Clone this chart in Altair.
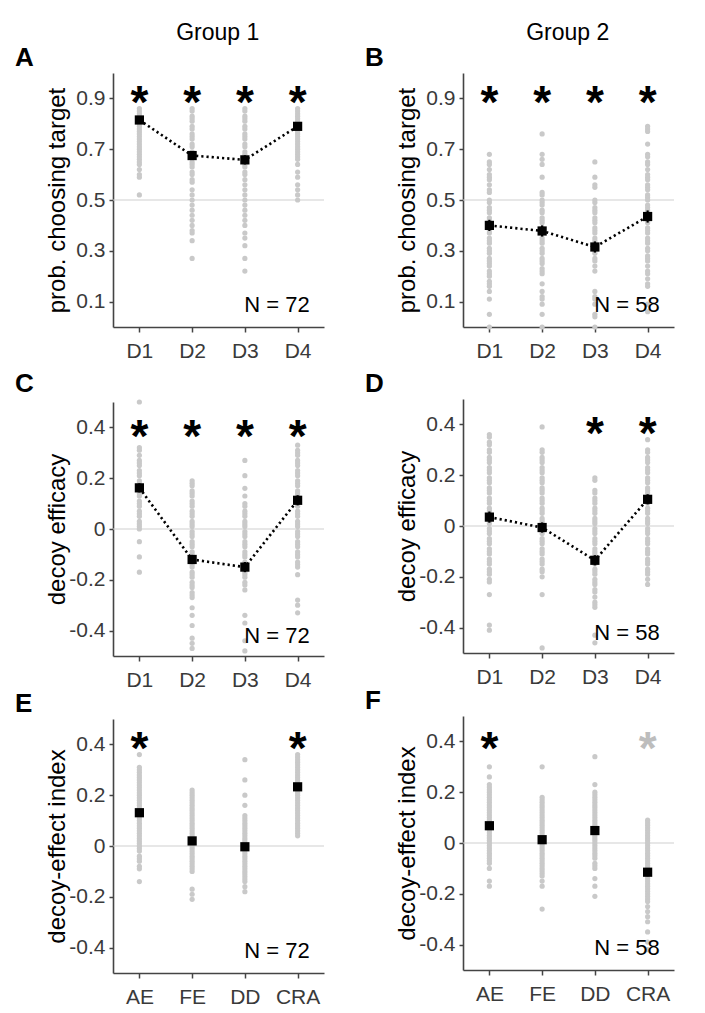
import altair as alt
import pandas as pd

FONT = "Liberation Sans"

cats_d = ["D1", "D2", "D3", "D4"]
cats_e = ["AE", "FE", "DD", "CRA"]

# ---------------- Panel A (Group 1, prob. choosing target) ----------------
a_d1 = [0.86, 0.85, 0.84, 0.83, 0.82, 0.81, 0.80, 0.79, 0.78, 0.77, 0.76, 0.75, 0.74, 0.73, 0.72,
        0.71, 0.70, 0.69, 0.68, 0.67, 0.66, 0.65, 0.64, 0.62, 0.60, 0.59, 0.52]
a_d2 = [0.86, 0.85, 0.83, 0.82, 0.81, 0.79, 0.78, 0.76, 0.75, 0.74, 0.72, 0.71, 0.69, 0.68, 0.67,
        0.65, 0.64, 0.63, 0.61, 0.60, 0.58, 0.57, 0.54, 0.52, 0.50, 0.48, 0.46, 0.44, 0.42, 0.40,
        0.38, 0.37, 0.34, 0.27]
a_d3 = [0.86, 0.85, 0.83, 0.82, 0.81, 0.79, 0.78, 0.76, 0.75, 0.74, 0.72, 0.71, 0.69, 0.68, 0.67,
        0.65, 0.64, 0.63, 0.61, 0.60, 0.58, 0.56, 0.54, 0.52, 0.50, 0.48, 0.46, 0.44, 0.42, 0.40,
        0.37, 0.35, 0.32, 0.27, 0.22]
a_d4 = [0.86, 0.85, 0.84, 0.83, 0.82, 0.81, 0.80, 0.79, 0.78, 0.77, 0.76, 0.75, 0.74, 0.73, 0.72,
        0.71, 0.70, 0.69, 0.68, 0.67, 0.66, 0.64, 0.61, 0.59, 0.56, 0.54, 0.52, 0.50]
a_mean = [0.815, 0.675, 0.658, 0.790]
a_se = [0.012, 0.016, 0.018, 0.013]

# ---------------- Panel B (Group 2, prob. choosing target) ----------------
b_d1 = [0.68, 0.65, 0.64, 0.62, 0.60, 0.59, 0.58, 0.56, 0.54, 0.53, 0.50, 0.49, 0.47, 0.46, 0.45,
        0.43, 0.42, 0.41, 0.39, 0.38, 0.37, 0.35, 0.34, 0.33, 0.31, 0.30, 0.29, 0.27, 0.26, 0.25,
        0.24, 0.22, 0.21, 0.20, 0.18, 0.17, 0.16, 0.14, 0.11, 0.05, 0.0]
b_d2 = [0.76, 0.68, 0.66, 0.64, 0.59, 0.53, 0.52, 0.50, 0.49, 0.48, 0.46, 0.45, 0.43, 0.42, 0.41,
        0.39, 0.38, 0.37, 0.35, 0.34, 0.33, 0.31, 0.30, 0.29, 0.27, 0.26, 0.25, 0.23, 0.22, 0.21,
        0.17, 0.14, 0.12, 0.11, 0.09, 0.05, 0.0]
b_d3 = [0.65, 0.59, 0.56, 0.55, 0.50, 0.49, 0.47, 0.46, 0.45, 0.43, 0.42, 0.41, 0.39, 0.38, 0.37,
        0.35, 0.34, 0.33, 0.31, 0.30, 0.29, 0.27, 0.26, 0.24, 0.22, 0.14, 0.12, 0.11, 0.09, 0.05,
        0.04, 0.0]
b_d4 = [0.79, 0.78, 0.77, 0.72, 0.68, 0.67, 0.65, 0.64, 0.62, 0.60, 0.59, 0.58, 0.56, 0.55, 0.54,
        0.52, 0.51, 0.50, 0.48, 0.47, 0.46, 0.45, 0.43, 0.42, 0.41, 0.39, 0.38, 0.37, 0.35, 0.34,
        0.33, 0.31, 0.30, 0.28, 0.27, 0.26, 0.24, 0.22, 0.21, 0.19, 0.17, 0.16, 0.09, 0.06]
b_mean = [0.400, 0.378, 0.315, 0.435]
b_se = [0.022, 0.022, 0.022, 0.024]

# ---------------- Panel C (Group 1, decoy efficacy) ----------------
c_d1 = [0.50, 0.32, 0.31, 0.29, 0.27, 0.26, 0.25, 0.23, 0.22, 0.21, 0.19, 0.18, 0.17, 0.15, 0.14,
        0.13, 0.11, 0.10, 0.09, 0.07, 0.06, 0.05, 0.03, 0.02, 0.01, 0.0, -0.05, -0.11, -0.17]
c_d2 = [0.19, 0.18, 0.17, 0.15, 0.14, 0.13, 0.11, 0.10, 0.09, 0.07, 0.06, 0.05, 0.03, 0.02, 0.01,
        -0.01, -0.02, -0.03, -0.05, -0.06, -0.07, -0.09, -0.10, -0.11, -0.13, -0.14, -0.15, -0.17,
        -0.18, -0.19, -0.21, -0.22, -0.23, -0.25, -0.26, -0.27, -0.31, -0.34, -0.38, -0.43, -0.45,
        -0.47]
c_d3 = [0.27, 0.21, 0.16, 0.13, 0.10, 0.09, 0.07, 0.06, 0.05, 0.03, 0.02, 0.01, -0.01, -0.02,
        -0.03, -0.05, -0.06, -0.07, -0.09, -0.10, -0.11, -0.13, -0.14, -0.15, -0.17, -0.18, -0.19,
        -0.21, -0.22, -0.24, -0.34, -0.37, -0.44, -0.48]
c_d4 = [0.33, 0.31, 0.30, 0.29, 0.27, 0.26, 0.25, 0.23, 0.22, 0.21, 0.19, 0.18, 0.17, 0.15, 0.14,
        0.13, 0.11, 0.10, 0.09, 0.07, 0.06, 0.05, 0.03, 0.02, 0.01, -0.01, -0.02, -0.03, -0.05,
        -0.06, -0.07, -0.09, -0.10, -0.11, -0.13, -0.14, -0.15, -0.18, -0.28, -0.30, -0.33]
c_mean = [0.162, -0.120, -0.150, 0.113]
c_se = [0.018, 0.018, 0.020, 0.020]

# ---------------- Panel D (Group 2, decoy efficacy) ----------------
d_d1 = [0.36, 0.35, 0.33, 0.32, 0.30, 0.29, 0.27, 0.26, 0.25, 0.23, 0.22, 0.21, 0.19, 0.18, 0.17,
        0.15, 0.14, 0.13, 0.11, 0.10, 0.09, 0.07, 0.06, 0.05, 0.03, 0.02, 0.01, -0.01, -0.02,
        -0.03, -0.05, -0.06, -0.07, -0.09, -0.10, -0.11, -0.13, -0.14, -0.15, -0.17, -0.18,
        -0.19, -0.21, -0.22, -0.27, -0.39, -0.41]
d_d2 = [0.39, 0.30, 0.29, 0.27, 0.26, 0.25, 0.23, 0.22, 0.21, 0.19, 0.18, 0.17, 0.15, 0.14, 0.13,
        0.11, 0.10, 0.09, 0.07, 0.06, 0.05, 0.03, 0.02, 0.01, -0.01, -0.02, -0.03, -0.05, -0.06,
        -0.07, -0.09, -0.10, -0.11, -0.13, -0.14, -0.15, -0.17, -0.18, -0.20, -0.27, -0.48]
d_d3 = [0.19, 0.18, 0.14, 0.13, 0.11, 0.10, 0.09, 0.07, 0.06, 0.05, 0.03, 0.02, 0.01, -0.01,
        -0.02, -0.03, -0.05, -0.06, -0.07, -0.09, -0.10, -0.11, -0.13, -0.14, -0.15, -0.17,
        -0.18, -0.19, -0.21, -0.22, -0.23, -0.25, -0.26, -0.28, -0.30, -0.31, -0.32, -0.43, -0.46]
d_d4 = [0.34, 0.30, 0.29, 0.27, 0.26, 0.25, 0.23, 0.22, 0.21, 0.19, 0.18, 0.17, 0.15, 0.14, 0.13,
        0.11, 0.10, 0.09, 0.07, 0.06, 0.05, 0.03, 0.02, 0.01, -0.01, -0.02, -0.03, -0.05, -0.06,
        -0.07, -0.09, -0.10, -0.11, -0.13, -0.14, -0.15, -0.17, -0.18, -0.19, -0.21, -0.23]
d_mean = [0.035, -0.006, -0.135, 0.105]
d_se = [0.022, 0.020, 0.020, 0.020]

# ---------------- Panel E (Group 1, decoy-effect index) ----------------
e_ae = [0.36, 0.31, 0.30, 0.29, 0.28, 0.27, 0.26, 0.25, 0.24, 0.23, 0.22, 0.21, 0.20, 0.19, 0.18,
        0.17, 0.16, 0.15, 0.14, 0.13, 0.12, 0.11, 0.10, 0.09, 0.08, 0.07, 0.06, 0.05, 0.04, 0.03,
        0.02, 0.01, 0.0, -0.01, -0.02, -0.04, -0.05, -0.06, -0.08, -0.09, -0.14]
e_fe = [0.22, 0.21, 0.20, 0.19, 0.18, 0.17, 0.16, 0.15, 0.14, 0.13, 0.12, 0.11, 0.10, 0.09, 0.08,
        0.07, 0.06, 0.05, 0.04, 0.03, 0.02, 0.01, 0.0, -0.01, -0.02, -0.03, -0.04, -0.05, -0.06,
        -0.07, -0.08, -0.09, -0.10, -0.17, -0.19, -0.21]
e_dd = [0.34, 0.26, 0.20, 0.16, 0.12, 0.11, 0.10, 0.09, 0.08, 0.07, 0.06, 0.05, 0.04, 0.03, 0.02,
        0.01, 0.0, -0.01, -0.02, -0.03, -0.04, -0.05, -0.06, -0.07, -0.08, -0.09, -0.10, -0.11,
        -0.12, -0.13, -0.14, -0.16, -0.18]
e_cra = [0.36, 0.35, 0.34, 0.33, 0.32, 0.31, 0.30, 0.29, 0.28, 0.27, 0.26, 0.25, 0.24, 0.23, 0.22,
         0.21, 0.20, 0.19, 0.18, 0.17, 0.16, 0.15, 0.14, 0.13, 0.12, 0.11, 0.10, 0.09, 0.08, 0.07,
         0.06, 0.05, 0.04]
e_mean = [0.131, 0.020, -0.003, 0.233]
e_se = [0.015, 0.012, 0.012, 0.010]

# ---------------- Panel F (Group 2, decoy-effect index) ----------------
f_ae = [0.30, 0.26, 0.23, 0.22, 0.21, 0.20, 0.19, 0.18, 0.17, 0.16, 0.15, 0.14, 0.13, 0.12, 0.11,
        0.10, 0.09, 0.08, 0.07, 0.06, 0.05, 0.04, 0.03, 0.02, 0.01, 0.0, -0.01, -0.02, -0.03,
        -0.04, -0.05, -0.06, -0.07, -0.08, -0.10, -0.15, -0.17]
f_fe = [0.30, 0.18, 0.17, 0.16, 0.15, 0.14, 0.13, 0.12, 0.11, 0.10, 0.09, 0.08, 0.07, 0.06, 0.05,
        0.04, 0.03, 0.02, 0.01, 0.0, -0.01, -0.02, -0.03, -0.04, -0.05, -0.06, -0.07, -0.08,
        -0.09, -0.10, -0.11, -0.12, -0.13, -0.15, -0.17, -0.26]
f_dd = [0.34, 0.23, 0.20, 0.19, 0.18, 0.17, 0.16, 0.15, 0.14, 0.13, 0.12, 0.11, 0.10, 0.09, 0.08,
        0.07, 0.06, 0.05, 0.04, 0.03, 0.02, 0.01, 0.0, -0.01, -0.02, -0.03, -0.04, -0.05, -0.06,
        -0.08, -0.09, -0.10, -0.14, -0.17, -0.21]
f_cra = [0.09, 0.08, 0.07, 0.06, 0.05, 0.04, 0.03, 0.02, 0.01, 0.0, -0.01, -0.02, -0.03, -0.04,
         -0.05, -0.06, -0.07, -0.08, -0.09, -0.10, -0.11, -0.12, -0.13, -0.14, -0.15, -0.16,
         -0.17, -0.18, -0.19, -0.20, -0.21, -0.22, -0.23, -0.25, -0.27, -0.29, -0.31, -0.35,
         -0.39, -0.42]
f_mean = [0.068, 0.013, 0.049, -0.115]
f_se = [0.015, 0.012, 0.012, 0.016]

BLACK = "#000000"
GREY_STAR = "#bdbdbd"
DOT = "#c9c9c9"

W, H = 211, 254


def panel(letter, cats, dots, means, ses, domain, ticks, ytitle, ref, stars, n_label, n_y,
          connect):
    lbl = ("datum.value == 0 ? '0' : (datum.value < 0 ? '-' : '') + "
           "format(abs(datum.value), '.1f')")
    xenc = alt.X("cat:N", sort=cats,
                 scale=alt.Scale(type="point", domain=cats, padding=0.5),
                 axis=alt.Axis(title=None, labelAngle=0, labelPadding=8, tickSize=5))
    yscale = alt.Scale(domain=domain, nice=False, zero=False)
    yaxis = alt.Axis(title=ytitle, values=ticks, labelExpr=lbl, tickSize=4, labelPadding=4,
                     minExtent=40, maxExtent=40, titlePadding=4)

    def Y(field):
        return alt.Y(field + ":Q", scale=yscale, axis=yaxis, title=ytitle)

    dot_rows = [{"cat": c, "v": v} for c, vals in zip(cats, dots) for v in vals]
    dot_df = pd.DataFrame(dot_rows)
    mean_df = pd.DataFrame({"cat": cats, "v": means,
                            "lo": [m - s for m, s in zip(means, ses)],
                            "hi": [m + s for m, s in zip(means, ses)]})
    star_df = pd.DataFrame([{"cat": c, "v": y, "col": col} for c, y, col in stars])
    ref_df = pd.DataFrame({"v": [ref]})
    n_df = pd.DataFrame({"cat": [cats[-1]], "v": [n_y], "t": [n_label]})

    layers = [
        alt.Chart(ref_df).mark_rule(color="#cfcfcf", strokeWidth=1).encode(y=Y("v")),
        alt.Chart(dot_df).mark_circle(size=27, color=DOT, opacity=1).encode(x=xenc, y=Y("v")),
    ]
    if connect:
        layers.append(
            alt.Chart(mean_df).mark_line(color=BLACK, strokeWidth=2.6, strokeDash=[2.2, 3])
            .encode(x=xenc, y=Y("v")))
    layers += [
        alt.Chart(mean_df).mark_rule(color=BLACK, strokeWidth=2.2)
        .encode(x=xenc, y=Y("lo"), y2="hi"),
        alt.Chart(mean_df).mark_square(size=85, color=BLACK, opacity=1)
        .encode(x=xenc, y=Y("v")),
    ]
    if len(star_df):
        layers.append(
            alt.Chart(star_df).mark_text(text="*", fontSize=46, fontWeight="bold", font=FONT,
                                         baseline="alphabetic", dy=25)
            .encode(x=xenc, y=Y("v"), color=alt.Color("col:N", scale=None)))
    layers.append(
        alt.Chart(n_df).mark_text(fontSize=22, font=FONT, align="right",
                                  baseline="alphabetic", dx=12, color=BLACK)
        .encode(x=xenc, y=Y("v"), text="t:N"))

    return alt.layer(*layers).properties(
        width=W, height=H,
        title=alt.TitleParams(letter, anchor="start", fontSize=26, fontWeight="bold",
                              font=FONT, color=BLACK, dx=-30, offset=2))


pt_ticks = [0.1, 0.3, 0.5, 0.7, 0.9]
de_ticks = [-0.4, -0.2, 0.0, 0.2, 0.4]

pA = panel("A", cats_d, [a_d1, a_d2, a_d3, a_d4], a_mean, a_se, [0, 1], pt_ticks,
           "prob. choosing target", 0.5,
           [(c, 0.92, BLACK) for c in cats_d], "N = 72", 0.06, True)
pB = panel("B", cats_d, [b_d1, b_d2, b_d3, b_d4], b_mean, b_se, [0, 1], pt_ticks,
           "prob. choosing target", 0.5,
           [(c, 0.92, BLACK) for c in cats_d], "N = 58", 0.06, True)
pC = panel("C", cats_d, [c_d1, c_d2, c_d3, c_d4], c_mean, c_se, [-0.5, 0.5], de_ticks,
           "decoy efficacy", 0.0,
           [(c, 0.40, BLACK) for c in cats_d], "N = 72", -0.45, True)
pD = panel("D", cats_d, [d_d1, d_d2, d_d3, d_d4], d_mean, d_se, [-0.5, 0.5], de_ticks,
           "decoy efficacy", 0.0,
           [("D3", 0.40, BLACK), ("D4", 0.40, BLACK)], "N = 58", -0.45, True)
pE = panel("E", cats_e, [e_ae, e_fe, e_dd, e_cra], e_mean, e_se, [-0.5, 0.5], de_ticks,
           "decoy-effect index", 0.0,
           [("AE", 0.42, BLACK), ("CRA", 0.42, BLACK)], "N = 72", -0.44, False)
pF = panel("F", cats_e, [f_ae, f_fe, f_dd, f_cra], f_mean, f_se, [-0.5, 0.5], de_ticks,
           "decoy-effect index", 0.0,
           [("AE", 0.41, BLACK), ("CRA", 0.41, GREY_STAR)], "N = 58", -0.44, False)


def column(top, mid, bot, name):
    return alt.vconcat(
        alt.vconcat(top, mid, spacing=10), bot, spacing=1,
        title=alt.TitleParams(name, anchor="middle", fontSize=23, fontWeight="normal",
                              font=FONT, color=BLACK, dx=48, offset=0))


chart = alt.hconcat(column(pA, pC, pE, "Group 1"), column(pB, pD, pF, "Group 2"),
                    spacing=40).properties(
    padding={"left": 7, "top": 14, "right": 5, "bottom": 5}
).configure_view(stroke=None).configure_axis(
    grid=False, domainColor="#444444", domainWidth=1.6, tickColor="#444444", tickWidth=1.5,
    labelFont=FONT, labelFontSize=21, labelColor="#3a3a3a",
    titleFont=FONT, titleFontSize=24, titleColor=BLACK, titleFontWeight="normal"
).configure_title(font=FONT)

chart.save("out.html", embed_options={"renderer": "svg", "actions": False})
